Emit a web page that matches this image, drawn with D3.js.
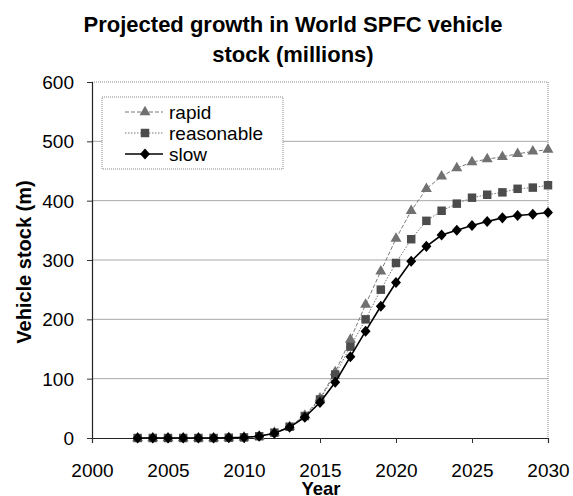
<!DOCTYPE html>
<html>
<head>
<meta charset="utf-8">
<script src="https://cdn.jsdelivr.net/npm/d3@7"></script>
<style>
  html, body { margin: 0; padding: 0; background: #fff; }
  svg { display: block; font-family: Arial, "Liberation Sans", sans-serif; }
</style>
</head>
<body>
<svg id="chart" width="573" height="496"></svg>
<script>
// Projected world SPFC vehicle stock, millions, one value per year
const years = d3.range(2003, 2031);
const rapid =      [0, 0, 0, 0, 0, 0, 0.5, 1, 3, 9, 19, 38, 67, 111, 166, 225, 281, 336, 383, 420, 441, 455, 465, 470, 474, 479, 483, 486];
const reasonable = [0, 0, 0, 0, 0, 0, 0.5, 1, 3, 9, 19, 37, 65, 107, 154, 200, 250, 295, 335, 366, 383, 395, 405, 410, 414, 420, 422, 426];
const slow =       [0, 0, 0, 0, 0, 0, 0.5, 1, 3, 8, 18, 35, 60, 94, 137, 180, 222, 262, 298, 323, 342, 350, 358, 365, 371, 375, 377, 380];
const seriesNames = ["rapid", "reasonable", "slow"];
const xTicks = [2000, 2005, 2010, 2015, 2020, 2025, 2030];
const yTicks = [0, 100, 200, 300, 400, 500, 600];

const svg = d3.select("#chart");
const plot = { left: 92, right: 548, top: 82, bottom: 438 };

const x = d3.scaleLinear().domain([2000, 2030]).range([plot.left, plot.right]);
const y = d3.scaleLinear().domain([0, 600]).range([plot.bottom, plot.top]);

// Title
svg.append("text").attr("x", 293).attr("y", 32).attr("text-anchor", "middle")
  .attr("font-size", 22).attr("font-weight", "bold").text("Projected growth in World SPFC vehicle");
svg.append("text").attr("x", 293).attr("y", 62).attr("text-anchor", "middle")
  .attr("font-size", 22).attr("font-weight", "bold").text("stock (millions)");

// Horizontal gridlines
svg.append("g").selectAll("line").data(yTicks.filter(d => d > 0 && d < 600)).join("line")
  .attr("x1", plot.left).attr("x2", plot.right).attr("y1", d => y(d)).attr("y2", d => y(d))
  .attr("stroke", "#a8a8a8").attr("stroke-width", 1);

// Plot frame (top and right)
svg.append("path")
  .attr("d", `M${plot.left},${plot.top}H${plot.right}V${plot.bottom}`)
  .attr("fill", "none").attr("stroke", "#888").attr("stroke-dasharray", "1,1");

// Axes
const yAxis = d3.axisLeft(y).tickValues(yTicks).tickSize(5).tickPadding(13).tickFormat(d3.format("d"));
const gy = svg.append("g").attr("transform", `translate(${plot.left},0)`).call(yAxis);
const xAxis = d3.axisBottom(x).tickValues(xTicks).tickSize(5).tickFormat(d3.format("d"));
const gx = svg.append("g").attr("transform", `translate(0,${plot.bottom})`).call(xAxis);
[gx, gy].forEach(g => {
  g.select(".domain").attr("stroke", "#222").attr("stroke-width", 1.2);
  g.selectAll(".tick line").attr("stroke", "#333");
  g.selectAll("text").attr("font-size", 19).attr("fill", "#000")
    .attr("font-family", "Arial, 'Liberation Sans', sans-serif");
});
gx.selectAll("text").attr("y", 39).attr("dy", null);
gy.selectAll("text").attr("dy", "0.35em");

// Axis titles
svg.append("text").attr("x", 321).attr("y", 495).attr("text-anchor", "middle")
  .attr("font-size", 18.5).attr("font-weight", "bold").text("Year");
svg.append("text").attr("transform", "translate(31,262) rotate(-90)").attr("text-anchor", "middle")
  .attr("font-size", 20).attr("font-weight", "bold").text("Vehicle stock (m)");

// Diamond a little wider than d3's built-in one
const squatDiamond = {
  draw(ctx, size) {
    const ry = Math.sqrt(size / 1.8), rx = ry * 0.9;
    ctx.moveTo(0, -ry); ctx.lineTo(rx, 0); ctx.lineTo(0, ry); ctx.lineTo(-rx, 0); ctx.closePath();
  }
};

// Series styles
const styles = {
  rapid:      { values: rapid,      stroke: "#777", width: 1, dash: "4,2", symbol: d3.symbolTriangle, size: 52, fill: "#717171" },
  reasonable: { values: reasonable, stroke: "#777", width: 1, dash: "1.5,1.5", symbol: d3.symbolSquare, size: 72, fill: "#4c4c4c" },
  slow:       { values: slow,       stroke: "#000", width: 1.6, dash: null, symbol: squatDiamond, size: 55, fill: "#000" }
};

const line = d3.line().x((d, i) => x(years[i])).y(d => y(d));

seriesNames.forEach(name => {
  const s = styles[name];
  svg.append("path").datum(s.values)
    .attr("d", line).attr("fill", "none")
    .attr("stroke", s.stroke).attr("stroke-width", s.width)
    .attr("stroke-dasharray", s.dash);
  svg.append("g").selectAll("path").data(s.values).join("path")
    .attr("transform", (d, i) => `translate(${x(years[i])},${y(d)})`)
    .attr("d", d3.symbol(s.symbol, s.size))
    .attr("fill", s.fill);
});

// Legend
const lg = svg.append("g");
lg.append("rect").attr("x", 102).attr("y", 97).attr("width", 181).attr("height", 72)
  .attr("fill", "#fff").attr("stroke", "#888").attr("stroke-dasharray", "1,1");
seriesNames.forEach((name, i) => {
  const s = styles[name];
  const ly = 112 + i * 21;
  lg.append("line").attr("x1", 125).attr("x2", 163).attr("y1", ly).attr("y2", ly)
    .attr("stroke", s.stroke).attr("stroke-width", s.width).attr("stroke-dasharray", s.dash);
  lg.append("path").attr("transform", `translate(145,${ly})`)
    .attr("d", d3.symbol(s.symbol, s.size)).attr("fill", s.fill);
  lg.append("text").attr("x", 169).attr("y", ly).attr("dy", "0.35em")
    .attr("font-size", 19).text(name);
});
</script>
</body>
</html>
